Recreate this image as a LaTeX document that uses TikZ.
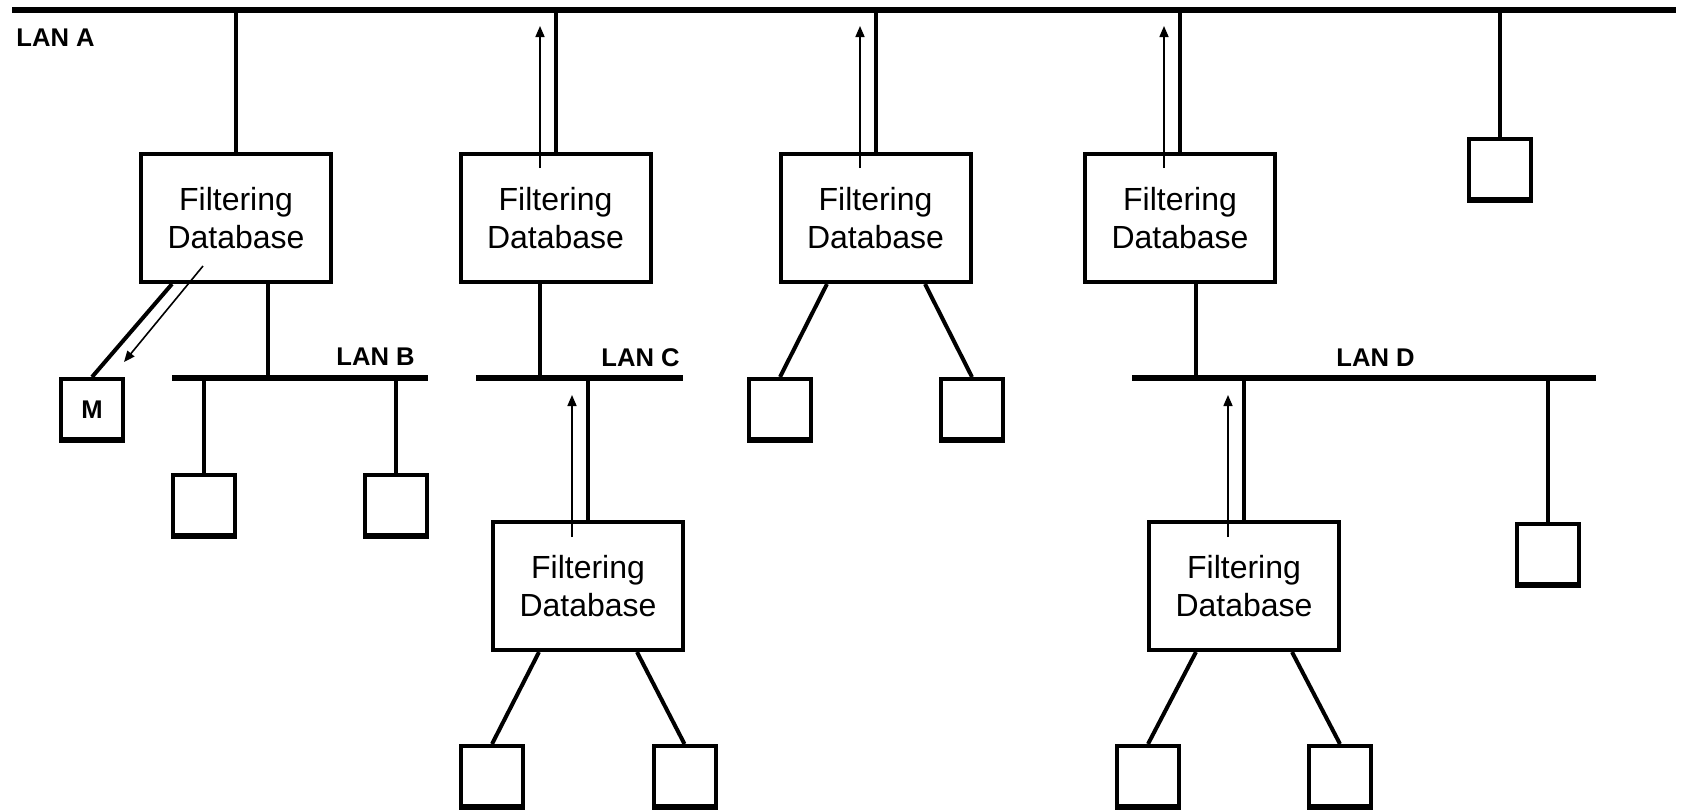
\documentclass[tikz,border=0pt]{standalone}
\usepackage{fontspec}
\setmainfont{Liberation Sans}
\usetikzlibrary{arrows.meta,calc}

\tikzset{
  bus/.style={line width=2.7pt},
  wire/.style={line width=2pt},
  flow/.style={line width=0.8pt, -{Triangle[width=4.5pt,length=5.5pt]}},
  bridge/.style={draw, line width=2pt, fill=white, minimum width=95pt, minimum height=64pt,
    inner sep=0pt, align=center, font=\fontsize{16}{19}\selectfont},
  station/.style={draw, line width=2pt, fill=white, minimum width=31pt, minimum height=31pt,
    inner sep=0pt, font=\fontsize{12.8}{14}\selectfont\bfseries,
    path picture={\draw[line width=3.6pt] (path picture bounding box.south west) -- (path picture bounding box.south east);}},
  lanlabel/.style={anchor=base west, inner sep=0pt, font=\fontsize{12.8}{14}\selectfont\bfseries}
}

\begin{document}
\begin{tikzpicture}[x=0.5pt,y=-0.5pt]
\useasboundingbox (0,0) rectangle (1681,809);

% LAN segments
\coordinate (aL) at (12,10);   \coordinate (aR) at (1676,10);
\coordinate (bL) at (172,378); \coordinate (bR) at (428,378);
\coordinate (cL) at (476,378); \coordinate (cR) at (683,378);
\coordinate (dL) at (1132,378);\coordinate (dR) at (1596,378);
\draw[bus] (aL) -- (aR);
\draw[bus] (bL) -- (bR);
\draw[bus] (cL) -- (cR);
\draw[bus] (dL) -- (dR);

\node[lanlabel] (labA) at (16,46) {LAN A};
\node[lanlabel] (labB) at (336,365) {LAN B};
\node[lanlabel] (labC) at (601,366) {LAN C};
\node[lanlabel] (labD) at (1336,366) {LAN D};

% bridges
\node[bridge] (b1) at (236,218) {Filtering\\Database};
\node[bridge] (b2) at (555.5,218) {Filtering\\Database};
\node[bridge] (b3) at (875.5,218) {Filtering\\Database};
\node[bridge] (b4) at (1180,218) {Filtering\\Database};
\node[bridge] (b5) at (588,586) {Filtering\\Database};
\node[bridge] (b6) at (1244,586) {Filtering\\Database};

% end stations
\node[station] (m)   at (92,410) {M};
\node[station] (sA)  at (1500,169.5) {};
\node[station] (sB1) at (204,506) {};
\node[station] (sB2) at (396,506) {};
\node[station] (s3L) at (780,410) {};
\node[station] (s3R) at (972,410) {};
\node[station] (s5L) at (492,777) {};
\node[station] (s5R) at (684.5,777) {};
\node[station] (s6L) at (1148,777) {};
\node[station] (s6R) at (1340,777) {};
\node[station] (sD)  at (1548,554.5) {};

% attachments to LAN A
\draw[wire] (b1.north) -- (b1.north |- aL);
\draw[wire] (b2.north) -- (b2.north |- aL);
\draw[wire] (b3.north) -- (b3.north |- aL);
\draw[wire] (b4.north) -- (b4.north |- aL);
\draw[wire] (sA.north) -- (sA.north |- aL);

% bridge ports on their lower side
\coordinate (b1p) at ($(b1.south)+(32,0)$);
\coordinate (b1m) at ($(b1.south)+(-64,0)$);
\coordinate (b2p) at ($(b2.south)+(-15.5,0)$);
\coordinate (b3l) at ($(b3.south)+(-48.5,0)$);
\coordinate (b3r) at ($(b3.south)+(49.5,0)$);
\coordinate (b4p) at ($(b4.south)+(16,0)$);
\coordinate (b5l) at ($(b5.south)+(-49,0)$);
\coordinate (b5r) at ($(b5.south)+(49,0)$);
\coordinate (b6l) at ($(b6.south)+(-48,0)$);
\coordinate (b6r) at ($(b6.south)+(48,0)$);

% LAN B
\draw[wire] (b1p) -- (b1p |- bL);
\draw[wire] (sB1.north) -- (sB1.north |- bL);
\draw[wire] (sB2.north) -- (sB2.north |- bL);
\draw[wire] (b1m) -- (m.north);

% LAN C
\draw[wire] (b2p) -- (b2p |- cL);
\draw[wire] (b5.north) -- (b5.north |- cL);

% LAN D
\draw[wire] (b4p) -- (b4p |- dL);
\draw[wire] (b6.north) -- (b6.north |- dL);
\draw[wire] (sD.north) -- (sD.north |- dL);

% stations hanging off bridges
\draw[wire] (b3l) -- (s3L.north);
\draw[wire] (b3r) -- (s3R.north);
\draw[wire] (b5l) -- (s5L.north);
\draw[wire] (b5r) -- (s5R.north);
\draw[wire] (b6l) -- (s6L.north);
\draw[wire] (b6r) -- (s6R.north);

% frame forwarding directions
\coordinate (f1s) at (203,266);  \coordinate (f1e) at (124,362);
\coordinate (f2s) at (540,168);  \coordinate (f2e) at (540,26);
\coordinate (f3s) at (860,168);  \coordinate (f3e) at (860,26);
\coordinate (f4s) at (1164,168); \coordinate (f4e) at (1164,26);
\coordinate (f5s) at (572,537);  \coordinate (f5e) at (572,395);
\coordinate (f6s) at (1228,537); \coordinate (f6e) at (1228,395);
\draw[flow] (f1s) -- (f1e);
\draw[flow] (f2s) -- (f2e);
\draw[flow] (f3s) -- (f3e);
\draw[flow] (f4s) -- (f4e);
\draw[flow] (f5s) -- (f5e);
\draw[flow] (f6s) -- (f6e);
\end{tikzpicture}
\end{document}
